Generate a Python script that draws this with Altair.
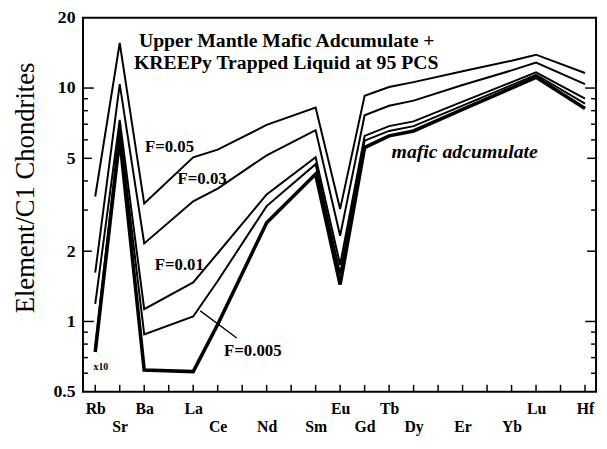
import altair as alt
import pandas as pd

# ---- data ----
elements = ["Rb", "Sr", "Ba", "La", "Ce", "Nd", "Sm", "Eu", "Gd", "Tb", "Dy", "Er", "Yb", "Lu", "Hf"]
slots = [0, 1, 2, 4, 5, 7, 9, 10, 11, 12, 13, 15, 17, 18, 20]
lower_row = ["Sr", "Ce", "Nd", "Sm", "Gd", "Dy", "Er", "Yb"]
tick_slots = list(range(21))

series_names = ["F=0.05", "F=0.03", "F=0.01", "F=0.005", "mafic adcumulate"]
f_005 = [3.43, 15.6, 3.2, 5.05, 5.45, 6.95, 8.25, 3.03, 9.27, 10.1, 10.6, 11.8, 13.1, 13.9, 11.6]
f_003 = [1.62, 10.4, 2.16, 3.27, 3.71, 5.15, 6.6, 2.33, 7.64, 8.4, 8.83, 10.3, 11.9, 12.85, 10.4]
f_001 = [1.19, 7.3, 1.13, 1.47, 1.96, 3.5, 5.05, 1.75, 6.24, 6.87, 7.2, 8.74, 10.6, 11.67, 9.0]
f_0005 = [0.77, 6.7, 0.88, 1.05, 1.49, 3.12, 4.72, 1.6, 5.95, 6.55, 6.87, 8.41, 10.3, 11.4, 8.58]
mafic = [0.74, 6.1, 0.62, 0.61, 0.97, 2.65, 4.28, 1.44, 5.56, 6.24, 6.55, 8.1, 10.0, 11.12, 8.17]
series_values = [f_005, f_003, f_001, f_0005, mafic]

y_label_values = [0.5, 1, 2, 5, 10, 20]
y_long_ticks = [1, 10]
y_mid_ticks = [2, 5]
y_short_ticks = [0.6, 0.7, 0.8, 0.9, 3, 4, 6, 7, 8, 9]

title_lines = ["Upper Mantle Mafic Adcumulate +", "KREEPy Trapped Liquid at 95 PCS"]
title_x = [7.82, 7.8]
title_y = [15.9, 12.8]

f_labels = ["F=0.05", "F=0.03", "F=0.01", "F=0.005"]
f_label_x = [2.03, 3.36, 2.43, 5.26]
f_label_y = [5.61, 4.07, 1.75, 0.75]

leader_x = [4.29]
leader_y = [1.11]
leader_x2 = [5.78]
leader_y2 = [0.85]

W, H = 520, 379

# ---- tables ----
rows = []
for name, vals in zip(series_names, series_values):
    for el, s, v in zip(elements, slots, vals):
        rows.append({"series": name, "element": el, "pos": s, "value": v})
df = pd.DataFrame(rows)

names_by_slot = [""] * 21
for el, s in zip(elements, slots):
    names_by_slot[s] = el
label_expr = "[" + ",".join("'%s'" % n for n in names_by_slot) + "][datum.value]"
lower_slots = [s for el, s in zip(elements, slots) if el in lower_row]
lower_test = "indexof([" + ",".join(str(s) for s in lower_slots) + "], datum.value) >= 0"

xscale = alt.Scale(domain=[-0.5, 20.45], nice=False, zero=False)
yscale = alt.Scale(type="log", domain=[0.5, 20], nice=False)

FONT = "Liberation Serif"

xaxis = alt.Axis(
    values=slots, labelExpr=label_expr, ticks=False, tickSize=0, domain=False, grid=False,
    labelFont=FONT, labelFontWeight="bold", labelFontSize=16, labelColor="black",
    labelPadding={"condition": {"test": lower_test, "value": 27}, "value": 9},
    labelOverlap=False, labelFlush=False, title=None,
)
yaxis = alt.Axis(
    values=y_label_values, format="~g", ticks=False, tickSize=0, domain=False, grid=False,
    labelFont=FONT, labelFontWeight="bold", labelFontSize=18, labelColor="black",
    labelPadding=8, labelOverlap=False, labelFlush=False,
    title="Element/C1 Chondrites", titleFont=FONT, titleFontSize=27, titleFontWeight="normal",
    titleColor="black", titlePadding=14, titleY=172,
)


def X(field):
    return alt.X(field, type="quantitative", scale=xscale, axis=xaxis)


def Y(field):
    return alt.Y(field, type="quantitative", scale=yscale, axis=yaxis)


base = alt.Chart(df)
model_lines = base.transform_filter(alt.datum.series != "mafic adcumulate").mark_line(
    color="black", strokeWidth=2, strokeJoin="miter").encode(
    x=X("pos"), y=Y("value"), detail="series:N", order="pos:Q",
)
mafic_line = base.transform_filter(alt.datum.series == "mafic adcumulate").mark_line(
    color="black", strokeWidth=3.6, strokeJoin="miter").encode(
    x=X("pos"), y=Y("value"), order="pos:Q",
)

layers = [model_lines, mafic_line]

# inward x ticks
xt = pd.DataFrame({"pos": tick_slots})
layers.append(alt.Chart(xt).mark_rule(color="black", strokeWidth=1.5).encode(
    x=X("pos"), y=alt.value(H), y2=alt.value(H - 7)))

# inward y ticks (both sides)
for vals, L in [(y_long_ticks, 11), (y_mid_ticks, 9), (y_short_ticks, 5)]:
    yt = pd.DataFrame({"value": vals})
    layers.append(alt.Chart(yt).mark_rule(color="black", strokeWidth=1.5).encode(
        y=Y("value"), x=alt.value(0), x2=alt.value(L)))
    layers.append(alt.Chart(yt).mark_rule(color="black", strokeWidth=1.5).encode(
        y=Y("value"), x=alt.value(W), x2=alt.value(W - L)))

# title text
tdf = pd.DataFrame({"pos": title_x, "value": title_y, "t": title_lines})
layers.append(alt.Chart(tdf).mark_text(font=FONT, fontWeight="bold", fontSize=20, align="center",
                                       baseline="middle", color="black").encode(
    x=X("pos"), y=Y("value"), text="t:N"))

# F labels
fdf = pd.DataFrame({"pos": f_label_x, "value": f_label_y, "t": f_labels})
layers.append(alt.Chart(fdf).mark_text(font=FONT, fontWeight="bold", fontSize=17, align="left",
                                       baseline="middle", color="black").encode(
    x=X("pos"), y=Y("value"), text="t:N"))

# x10 note
ndf = pd.DataFrame({"pos": [-0.07], "value": [0.64], "t": ["x10"]})
layers.append(alt.Chart(ndf).mark_text(font=FONT, fontWeight="bold", fontSize=10, align="left",
                                       baseline="middle", color="black").encode(
    x=X("pos"), y=Y("value"), text="t:N"))

# mafic adcumulate label
mdf = pd.DataFrame({"pos": [12.1], "value": [5.3], "t": ["mafic adcumulate"]})
layers.append(alt.Chart(mdf).mark_text(font=FONT, fontWeight="bold", fontStyle="italic", fontSize=20,
                                       align="left", baseline="middle", color="black").encode(
    x=X("pos"), y=Y("value"), text="t:N"))

# leader line for F=0.005
ldf = pd.DataFrame({"pos": leader_x, "value": leader_y, "pos2": leader_x2, "value2": leader_y2})
layers.append(alt.Chart(ldf).mark_rule(color="black", strokeWidth=1.3).encode(
    x=X("pos"), y=Y("value"), x2="pos2:Q", y2="value2:Q"))

chart = alt.layer(*layers).properties(
    width=W, height=H,
    padding={"left": 76, "top": 7, "right": 3, "bottom": 46},
    autosize=alt.AutoSizeParams(type="none"),
    background="white",
).configure_view(stroke="black", strokeWidth=2)

chart.save("out.html", embed_options={"renderer": "svg", "actions": False})
